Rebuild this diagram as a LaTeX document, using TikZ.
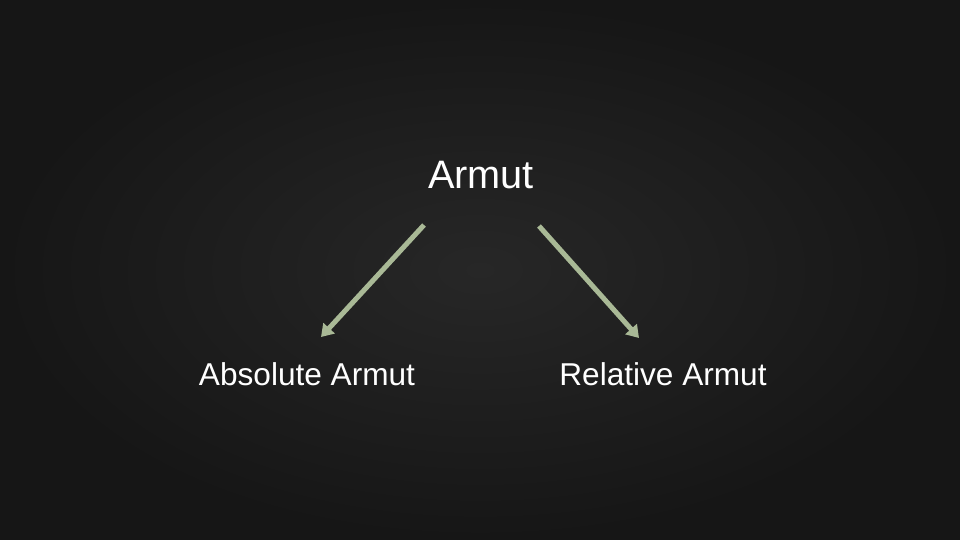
\documentclass[tikz,border=0pt]{standalone}
\usepackage{fontspec}
\setmainfont{Liberation Sans}
\usetikzlibrary{arrows.meta}
\definecolor{board}{HTML}{272727}
\definecolor{boardedge}{HTML}{161616}
\definecolor{chalkgreen}{HTML}{A9B996}
\tikzset{
  lbl/.style={text=white, font=\fontsize{31.6pt}{36pt}\selectfont, inner sep=0pt, anchor=base},
  toplbl/.style={lbl, font=\fontsize{39.7pt}{44pt}\selectfont},
  arr/.style={draw=chalkgreen, line width=5pt, -{Triangle[width=15pt,length=12pt]}},
}
\begin{document}
\begin{tikzpicture}[x=1pt,y=-1pt]
  \useasboundingbox (0,0) rectangle (960,540);
  \shade[inner color=board, outer color=boardedge] (0,0) rectangle (960,540);
  \node[toplbl] (armut) at (481,189) {Armut};
  \node[lbl] (abs) at (307,385) {Absolute Armut};
  \node[lbl] (rel) at (663,385) {Relative Armut};
  \coordinate (ls) at (424,225);
  \coordinate (le) at (321,337);
  \coordinate (rs) at (539,226);
  \coordinate (re) at (639,338);
  \draw[arr] (ls) -- (le);
  \draw[arr] (rs) -- (re);
\end{tikzpicture}
\end{document}
